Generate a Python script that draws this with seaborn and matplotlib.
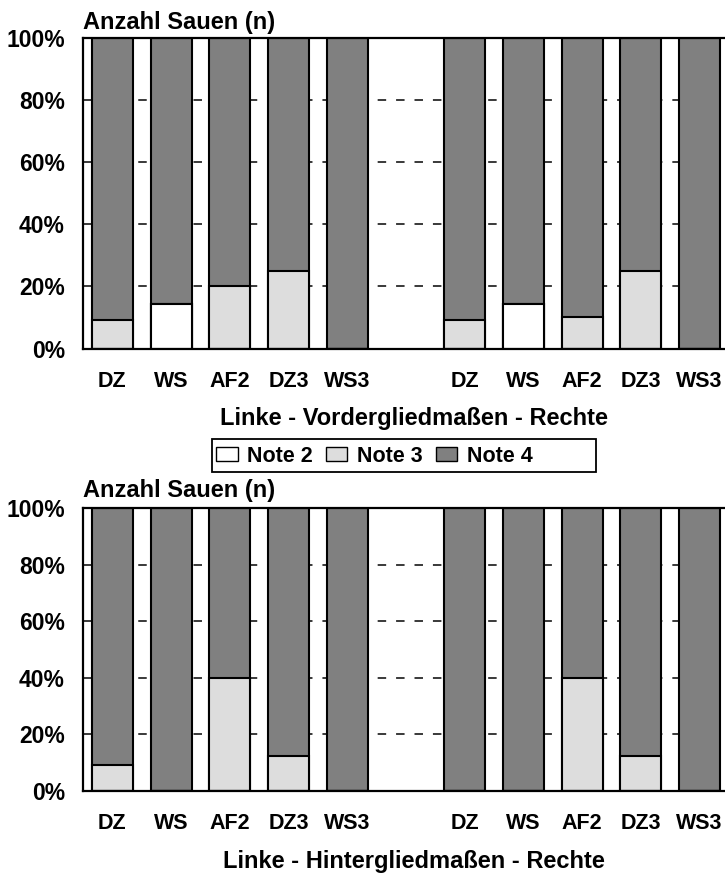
import numpy as np
import pandas as pd
import matplotlib
matplotlib.use("Agg")
import matplotlib.pyplot as plt
import seaborn as sns
from matplotlib.patches import Patch, Rectangle

# ---- data ----
categories = ["DZ", "WS", "AF2", "DZ3", "WS3"]
positions = ["L_DZ", "L_WS", "L_AF2", "L_DZ3", "L_WS3", "gap",
             "R_DZ", "R_WS", "R_AF2", "R_DZ3", "R_WS3"]
tick_labels = categories + [""] + categories
bar_positions = [p for p in positions if p != "gap"]

# Vordergliedmaßen (front limbs), % per note
front_note2 = [0, 14.3, 0, 0, 0, 0, 14.3, 0, 0, 0]
front_note3 = [9.1, 0, 20, 25, 0, 9.1, 0, 10, 25, 0]
front_note4 = [90.9, 85.7, 80, 75, 100, 90.9, 85.7, 90, 75, 100]
# Hintergliedmaßen (hind limbs), % per note
hind_note2 = [0, 0, 0, 0, 0, 0, 0, 0, 0, 0]
hind_note3 = [9.1, 0, 40, 12.5, 0, 0, 0, 40, 12.5, 0]
hind_note4 = [90.9, 100, 60, 87.5, 100, 100, 100, 60, 87.5, 100]

note_labels = ["Note 2", "Note 3", "Note 4"]
note_colors = ["#FFFFFF", "#DDDDDD", "#808080"]

sns.set_style("white")
plt.rcParams["font.family"] = ["Liberation Sans", "DejaVu Sans"]
plt.rcParams["font.weight"] = "bold"
plt.rcParams["text.color"] = "black"
plt.rcParams["xtick.color"] = "black"
plt.rcParams["ytick.color"] = "black"

W, H = 725, 874
fig = plt.figure(figsize=(W / 100, H / 100), dpi=100)

def px_axes(left, top, right, bottom):
    return fig.add_axes([left / W, 1 - bottom / H, (right - left) / W, (bottom - top) / H])

ax_top = px_axes(83, 38, 729, 348.5)
ax_bot = px_axes(83, 508, 729, 791)

def draw(ax, n2, n3, n4, xlabel, xlabel_base, anz_base):
    df = pd.DataFrame({
        "pos": bar_positions,
        "c2": n2,
        "c3": np.array(n2) + np.array(n3),
        "c4": np.array(n2) + np.array(n3) + np.array(n4),
    })
    for col, colr in zip(["c4", "c3", "c2"], note_colors[::-1]):
        sns.barplot(data=df, x="pos", y=col, order=positions, color=colr,
                    width=0.7, edgecolor="black", linewidth=1.5,
                    errorbar=None, saturation=1, ax=ax)
    ax.set_ylim(0, 100)
    ax.set_xlim(-0.5, 10.5)
    ax.set_yticks([0, 20, 40, 60, 80, 100])
    ax.set_yticklabels([f"{v}%" for v in [0, 20, 40, 60, 80, 100]],
                       fontsize=16.5, fontweight="bold")
    ax.set_xticks(range(len(positions)))
    ax.set_xticklabels(tick_labels, fontsize=15.5, fontweight="bold")
    ax.set_xlabel("")
    ax.set_ylabel("")
    ax.set_axisbelow(True)
    ax.yaxis.grid(True, color="#2a2a2a", linewidth=1.3,
                  linestyle=(0, (4.7, 5.5)))
    ax.xaxis.grid(False)
    for s in ax.spines.values():
        s.set_visible(True)
        s.set_color("black")
        s.set_linewidth(1.6)
    ax.tick_params(axis="both", direction="out", length=7, width=1.1,
                   color="black", labelcolor="black")
    ax.tick_params(axis="x", pad=9)
    ax.tick_params(axis="y", pad=6)
    fig.text(414 / W, 1 - xlabel_base / H, xlabel, ha="center", va="baseline",
             fontsize=17, fontweight="bold")
    fig.text(83 / W, 1 - anz_base / H, "Anzahl Sauen (n)", ha="left",
             va="baseline", fontsize=17, fontweight="bold")

draw(ax_top, front_note2, front_note3, front_note4,
     "Linke - Vordergliedmaßen - Rechte", 425, 28.5)
draw(ax_bot, hind_note2, hind_note3, hind_note4,
     "Linke - Hintergliedmaßen - Rechte", 868, 497)

# legend: frame box plus entries
fig.add_artist(Rectangle((212 / W, 1 - 472.5 / H), 384 / W, 33.5 / H,
                         transform=fig.transFigure, fill=False,
                         edgecolor="black", linewidth=1.3))
handles = [Patch(facecolor=c, edgecolor="black", linewidth=1.0, label=l)
           for c, l in zip(note_colors, note_labels)]
fig.legend(handles=handles, loc="center left", ncol=3,
           bbox_to_anchor=(216 / W, 1 - 456 / H),
           frameon=False, prop={"size": 15.5, "weight": "bold"},
           handlelength=1.0, handleheight=0.6, handletextpad=0.45,
           columnspacing=0.6, borderpad=0, borderaxespad=0)

fig.savefig("out.png", dpi=100)
